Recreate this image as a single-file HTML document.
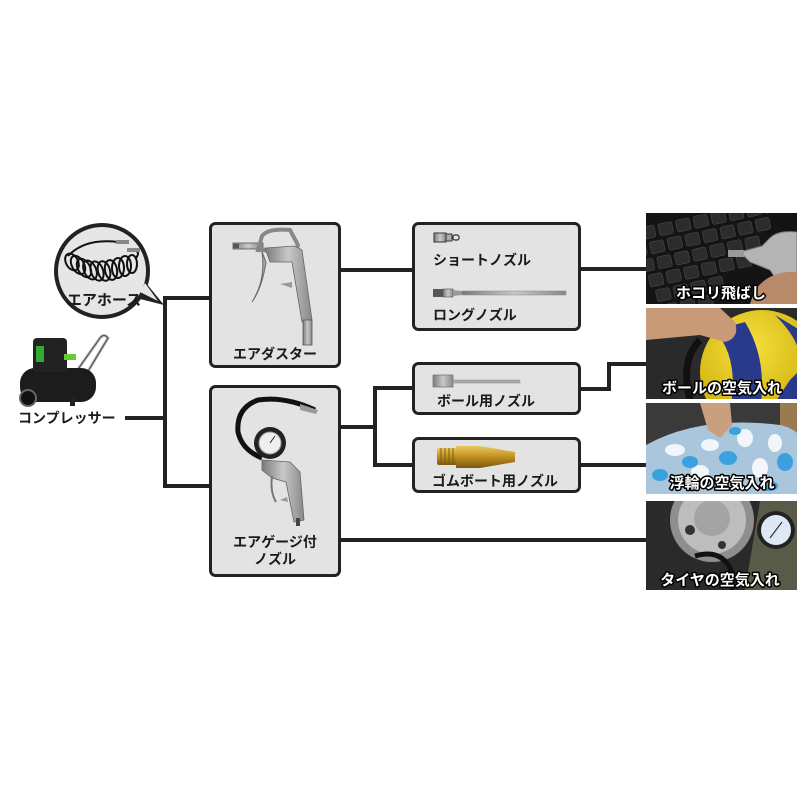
<!DOCTYPE html>
<html><head><meta charset="utf-8"><style>
html,body{margin:0;padding:0;background:#fff;}
svg{display:block;}
text{font-family:"Liberation Sans","Noto Sans CJK JP",sans-serif;font-weight:bold;}
.lbl{fill:#1a1a1a;font-size:14px;}
.ph{fill:#fff;stroke:#000;stroke-width:3px;paint-order:stroke;stroke-linejoin:round;font-size:15px;}
</style></head><body>
<svg width="800" height="800" viewBox="0 0 800 800" xmlns="http://www.w3.org/2000/svg">
<defs>
<clipPath id="c1"><rect x="646" y="213" width="151" height="91"/></clipPath>
<clipPath id="c2"><rect x="646" y="308" width="151" height="91"/></clipPath>
<clipPath id="c3"><rect x="646" y="403" width="151" height="91"/></clipPath>
<clipPath id="c4"><rect x="646" y="501" width="151" height="89"/></clipPath>
<linearGradient id="silver" x1="0" y1="0" x2="1" y2="0"><stop offset="0" stop-color="#7a7a7a"/><stop offset=".5" stop-color="#c8c8c8"/><stop offset="1" stop-color="#888"/></linearGradient>
<linearGradient id="brass" x1="0" y1="0" x2="0" y2="1"><stop offset="0" stop-color="#e8c860"/><stop offset=".5" stop-color="#c09020"/><stop offset="1" stop-color="#7a5a10"/></linearGradient>
<radialGradient id="ball" cx=".4" cy=".3" r=".7"><stop offset="0" stop-color="#f6e040"/><stop offset="1" stop-color="#c8a800"/></radialGradient>
</defs>

<!-- connectors -->
<g stroke="#222" stroke-width="4" fill="none" stroke-linecap="square">
<path d="M127,418 H165"/>
<path d="M165,298 V486"/>
<path d="M165,298 H209"/>
<path d="M165,486 H209"/>
<path d="M341,270 H412"/>
<path d="M581,269 H646"/>
<path d="M341,427 H375"/>
<path d="M375,388 V465"/>
<path d="M375,388 H412"/>
<path d="M375,465 H412"/>
<path d="M581,389 H609 V364 H646"/>
<path d="M581,465 H646"/>
<path d="M341,540 H646"/>
</g>

<!-- boxes -->
<g fill="#e3e3e3" stroke="#222" stroke-width="3">
<rect x="210.5" y="223.5" width="129" height="143" rx="5"/>
<rect x="210.5" y="386.5" width="129" height="189" rx="5"/>
<rect x="413.5" y="223.5" width="166" height="106" rx="5"/>
<rect x="413.5" y="363.5" width="166" height="50" rx="5"/>
<rect x="413.5" y="438.5" width="166" height="53" rx="5"/>
</g>

<!-- hose bubble -->
<path d="M136,298 L164,305 L146,283 Z" fill="#222"/>
<circle cx="102" cy="271" r="46" fill="#e6e6e6" stroke="#222" stroke-width="4"/>
<path d="M140,292 L158,301 L145,283 Z" fill="#e6e6e6"/>
<g fill="none" stroke="#111" stroke-width="2">
<ellipse cx="72" cy="262" rx="6" ry="9" transform="rotate(-30 72 262)"/>
<ellipse cx="78" cy="265" rx="6" ry="10" transform="rotate(-30 78 265)"/>
<ellipse cx="84" cy="268" rx="6" ry="10" transform="rotate(-30 84 268)"/>
<ellipse cx="90" cy="270" rx="6" ry="10" transform="rotate(-25 90 270)"/>
<ellipse cx="97" cy="271" rx="6" ry="10" transform="rotate(-20 97 271)"/>
<ellipse cx="104" cy="271" rx="6" ry="10" transform="rotate(-15 104 271)"/>
<ellipse cx="111" cy="270" rx="6" ry="10" transform="rotate(-10 111 270)"/>
<ellipse cx="118" cy="268" rx="6" ry="10"/>
<ellipse cx="125" cy="266" rx="6" ry="10"/>
<ellipse cx="132" cy="264" rx="5" ry="9"/>
<path d="M68,256 Q85,238 118,242"/>
<path d="M136,258 Q142,250 130,250"/>
</g>
<rect x="116" y="240" width="13" height="4" fill="#888"/>
<rect x="127" y="248" width="13" height="4" fill="#888"/>
<text x="104" y="305" text-anchor="middle" class="lbl" style="font-size:15px">エアホース</text>

<!-- compressor -->
<g>
<path d="M76,372 L100,338 Q104,333 108,338 L84,378" fill="none" stroke="#bbb" stroke-width="3"/>
<path d="M76,372 L100,338 Q104,333 108,338 L84,378" fill="none" stroke="#444" stroke-width="1" />
<rect x="20" y="368" width="76" height="34" rx="15" fill="#1c1c1c"/>
<rect x="33" y="338" width="34" height="34" rx="4" fill="#222"/>
<rect x="36" y="346" width="8" height="16" fill="#3a3"/>
<rect x="64" y="354" width="12" height="6" fill="#6c3"/>
<circle cx="28" cy="398" r="8" fill="#111" stroke="#666" stroke-width="2"/>
<rect x="70" y="398" width="5" height="8" fill="#222"/>
</g>
<text x="18" y="423" class="lbl">コンプレッサー</text>

<!-- air duster gun -->
<g>
<rect x="233" y="243" width="30" height="6" fill="url(#silver)" stroke="#555" stroke-width=".8"/>
<rect x="233" y="244" width="6" height="4" fill="#555"/>
<path d="M258,250 L262,236 Q268,228 290,230 L298,245 L296,252 Z" fill="none" stroke="#888" stroke-width="4"/>
<path d="M265,248 L295,246 L302,250 L312,320 L302,322 L292,262 L270,262 Z" fill="url(#silver)" stroke="#666" stroke-width=".8"/>
<path d="M292,282 L280,284 L292,288 Z" fill="#999"/>
<path d="M262,252 Q266,280 252,302 Q262,288 266,262 Z" fill="#aaa" stroke="#666" stroke-width="1"/>
<rect x="303" y="320" width="9" height="25" fill="url(#silver)" stroke="#555" stroke-width=".8"/>
</g>
<text x="275" y="359" text-anchor="middle" class="lbl">エアダスター</text>

<!-- gauge nozzle -->
<g>
<path d="M315,410 Q285,396 258,400 Q236,408 238,432 Q242,450 262,458" fill="none" stroke="#111" stroke-width="5"/>
<path d="M300,404 L318,410 L316,414 L300,410 Z" fill="#999"/>
<circle cx="270" cy="443" r="16" fill="#222"/>
<circle cx="270" cy="443" r="11" fill="#eee" stroke="#999" stroke-width="1"/>
<path d="M270,443 L275,436" stroke="#222" stroke-width="1"/>
<path d="M262,460 L290,462 L300,472 L304,520 L294,522 L286,482 L272,478 L262,470 Z" fill="url(#silver)" stroke="#666" stroke-width=".8"/>
<path d="M272,476 Q270,492 276,502" fill="none" stroke="#777" stroke-width="2"/>
<path d="M287,497 L280,500 L288,502 Z" fill="#999"/>
<rect x="296" y="518" width="4" height="8" fill="#444"/>
</g>
<text x="275" y="547" text-anchor="middle" class="lbl">エアゲージ付</text>
<text x="275" y="564" text-anchor="middle" class="lbl">ノズル</text>

<!-- short & long nozzle -->
<g>
<rect x="434" y="233" width="12" height="9" fill="url(#silver)" stroke="#333" stroke-width="1"/>
<rect x="446" y="234" width="6" height="7" fill="#aaa" stroke="#333" stroke-width="1"/>
<rect x="453" y="235" width="6" height="5" rx="2" fill="none" stroke="#333" stroke-width="1.2"/>
<rect x="433" y="289" width="10" height="8" fill="#555"/>
<rect x="443" y="289" width="10" height="8" fill="url(#silver)" stroke="#555" stroke-width=".6"/>
<path d="M453,290 L462,291 L462,295 L453,296 Z" fill="#999"/>
<rect x="462" y="291" width="104" height="4" fill="url(#silver)" stroke="#888" stroke-width=".5"/>
</g>
<text x="433" y="265" class="lbl">ショートノズル</text>
<text x="433" y="320" class="lbl">ロングノズル</text>

<!-- ball nozzle -->
<g>
<rect x="433" y="375" width="20" height="12" fill="url(#silver)" stroke="#777" stroke-width=".8"/>
<rect x="453" y="380" width="67" height="3" fill="#aaa" stroke="#888" stroke-width=".5"/>
</g>
<text x="437" y="406" class="lbl">ボール用ノズル</text>

<!-- boat nozzle -->
<g>
<rect x="437" y="448" width="20" height="17" rx="2" fill="url(#brass)"/>
<path d="M456,446 L480,446 L515,452 L515,462 L480,468 L456,468 Z" fill="url(#brass)"/>
<g stroke="#7a5a10" stroke-width="1"><path d="M441,448 V465 M445,448 V465 M449,448 V465 M453,448 V465"/></g>
</g>
<text x="432" y="486" class="lbl">ゴムボート用ノズル</text>

<!-- photo 1: keyboard -->
<g clip-path="url(#c1)">
<rect x="646" y="213" width="151" height="91" fill="#141414"/>
<g fill="#2c2c2c" stroke="#4a4a4a" stroke-width=".6" transform="rotate(-12 720 258)">
<rect x="630" y="212" width="14" height="12" rx="2"/><rect x="648" y="212" width="14" height="12" rx="2"/><rect x="666" y="212" width="14" height="12" rx="2"/><rect x="684" y="212" width="14" height="12" rx="2"/><rect x="702" y="212" width="14" height="12" rx="2"/><rect x="720" y="212" width="14" height="12" rx="2"/><rect x="738" y="212" width="14" height="12" rx="2"/><rect x="756" y="212" width="14" height="12" rx="2"/><rect x="774" y="212" width="14" height="12" rx="2"/>
<rect x="636" y="228" width="14" height="12" rx="2"/><rect x="654" y="228" width="14" height="12" rx="2"/><rect x="672" y="228" width="14" height="12" rx="2"/><rect x="690" y="228" width="14" height="12" rx="2"/><rect x="708" y="228" width="14" height="12" rx="2"/><rect x="726" y="228" width="14" height="12" rx="2"/><rect x="744" y="228" width="14" height="12" rx="2"/><rect x="762" y="228" width="14" height="12" rx="2"/>
<rect x="640" y="244" width="14" height="12" rx="2"/><rect x="658" y="244" width="14" height="12" rx="2"/><rect x="676" y="244" width="14" height="12" rx="2"/><rect x="694" y="244" width="14" height="12" rx="2"/><rect x="712" y="244" width="14" height="12" rx="2"/><rect x="730" y="244" width="14" height="12" rx="2"/><rect x="748" y="244" width="14" height="12" rx="2"/>
<rect x="646" y="260" width="14" height="12" rx="2"/><rect x="664" y="260" width="14" height="12" rx="2"/><rect x="682" y="260" width="14" height="12" rx="2"/><rect x="700" y="260" width="14" height="12" rx="2"/><rect x="718" y="260" width="14" height="12" rx="2"/><rect x="736" y="260" width="14" height="12" rx="2"/>
<rect x="650" y="276" width="14" height="12" rx="2"/><rect x="668" y="276" width="14" height="12" rx="2"/><rect x="686" y="276" width="14" height="12" rx="2"/><rect x="704" y="276" width="14" height="12" rx="2"/>
<rect x="654" y="292" width="14" height="12" rx="2"/><rect x="672" y="292" width="14" height="12" rx="2"/><rect x="690" y="292" width="14" height="12" rx="2"/>
</g>
<path d="M740,252 L762,246 L770,238 Q778,230 797,232 L797,282 L780,285 L770,270 L750,262 Z" fill="#b4b4b4" stroke="#777" stroke-width="1"/>
<rect x="728" y="250" width="16" height="7" fill="#9a9a9a"/>
<path d="M755,290 Q770,270 797,272 L797,304 L750,304 Z" fill="#b88a6a"/>
<text x="721" y="298" text-anchor="middle" class="ph">ホコリ飛ばし</text>
</g>

<!-- photo 2: ball -->
<g clip-path="url(#c2)">
<rect x="646" y="308" width="151" height="91" fill="#2a2a2a"/>
<circle cx="762" cy="372" r="62" fill="url(#ball)"/>
<path d="M715,330 Q740,360 730,410 L760,410 Q768,360 745,322 Z" fill="#2a3a8a"/>
<path d="M775,315 Q800,340 800,360 L800,330 Z" fill="#2a3a8a"/>
<path d="M790,380 Q780,395 770,410 L800,410 L800,370 Z" fill="#2a3a8a"/>
<path d="M700,340 Q680,360 690,400" fill="none" stroke="#111" stroke-width="7"/>
<path d="M646,308 L720,308 L735,322 Q740,338 725,342 L700,335 L646,340 Z" fill="#c89a78"/>
<text x="722" y="393" text-anchor="middle" class="ph">ボールの空気入れ</text>
</g>

<!-- photo 3: float -->
<g clip-path="url(#c3)">
<rect x="646" y="403" width="151" height="91" fill="#3a3a3a"/>
<rect x="780" y="403" width="17" height="30" fill="#9a7a50"/>
<path d="M646,445 Q700,415 780,425 Q800,430 800,440 L800,494 L646,494 Z" fill="#a9c6dc"/>
<g fill="#f2f6fa"><ellipse cx="675" cy="450" rx="10" ry="6"/><ellipse cx="710" cy="445" rx="9" ry="6"/><ellipse cx="745" cy="438" rx="8" ry="9"/><ellipse cx="775" cy="443" rx="7" ry="9"/><ellipse cx="700" cy="472" rx="9" ry="7"/><ellipse cx="760" cy="468" rx="8" ry="10"/></g>
<g fill="#3aa0e0"><ellipse cx="690" cy="462" rx="8" ry="6"/><ellipse cx="728" cy="458" rx="9" ry="7"/><ellipse cx="785" cy="462" rx="8" ry="9"/><ellipse cx="660" cy="475" rx="8" ry="6"/><ellipse cx="735" cy="431" rx="6" ry="4"/><ellipse cx="770" cy="486" rx="8" ry="5"/></g>
<path d="M700,403 L730,403 L732,425 L720,438 L708,430 Z" fill="#c8a080"/>
<text x="722" y="488" text-anchor="middle" class="ph">浮輪の空気入れ</text>
</g>

<!-- photo 4: tire -->
<g clip-path="url(#c4)">
<rect x="646" y="501" width="151" height="89" fill="#2a2a2a"/>
<path d="M760,501 L797,501 L797,590 L745,590 Z" fill="#5a5a48"/>
<circle cx="712" cy="520" r="42" fill="#8e8e8e"/>
<circle cx="712" cy="520" r="34" fill="#bdbdbd"/>
<circle cx="712" cy="518" r="18" fill="#a4a4a4"/>
<circle cx="690" cy="530" r="5" fill="#333"/>
<circle cx="722" cy="545" r="4" fill="#333"/>
<path d="M695,556 Q722,548 732,572 L732,590" fill="none" stroke="#111" stroke-width="5"/>
<circle cx="776" cy="530" r="19" fill="#222"/>
<circle cx="776" cy="530" r="15" fill="#dde8f4"/>
<path d="M770,538 L782,522" stroke="#333" stroke-width="1.2"/>
<text x="720" y="585" text-anchor="middle" class="ph">タイヤの空気入れ</text>
</g>
</svg>
</body></html>
